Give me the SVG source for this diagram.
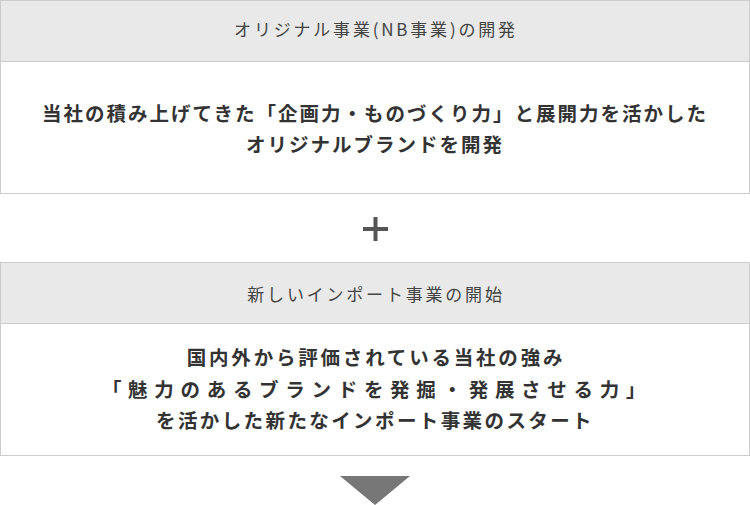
<svg xmlns="http://www.w3.org/2000/svg" width="750" height="505" viewBox="0 0 750 505">
<style>
.hd{fill:#e9e9e9;stroke:#cccccc;stroke-width:1}
.bd{fill:#ffffff;stroke:#cccccc;stroke-width:1}
.ht{font-family:"Noto Sans CJK JP","Noto Sans",sans-serif;font-size:17px;fill:#444;text-anchor:middle;letter-spacing:2.8px}
.bt{font-family:"Noto Sans CJK JP","Noto Sans",sans-serif;font-size:19.5px;font-weight:bold;fill:#333;text-anchor:middle;letter-spacing:2px}
</style>
<rect width="750" height="505" fill="#ffffff"/>
<g id="box1">
<rect class="hd" x="0.5" y="0.5" width="749" height="61"/>
<text class="ht" x="376" y="36">オリジナル事業(NB事業)の開発</text>
<rect class="bd" x="0.5" y="61.5" width="749" height="132"/>
<text class="bt" x="375" y="121">当社の積み上げてきた「企画力・ものづくり力」と展開力を活かした</text>
<text class="bt" x="375" y="152">オリジナルブランドを開発</text>
</g>
<g id="plus">
<rect x="363" y="227" width="25" height="4" fill="#555"/>
<rect x="373.5" y="217" width="4" height="24" fill="#555"/>
</g>
<g id="box2">
<rect class="hd" x="0.5" y="262.5" width="749" height="61"/>
<text class="ht" x="376" y="301">新しいインポート事業の開始</text>
<rect class="bd" x="0.5" y="323.5" width="749" height="132"/>
<text class="bt" x="376" y="365" style="letter-spacing:2.8px">国内外から評価されている当社の強み</text>
<text class="bt" x="377" y="397" style="letter-spacing:6.7px">「魅力のあるブランドを発掘・発展させる力」</text>
<text class="bt" x="375" y="428" style="letter-spacing:2.4px">を活かした新たなインポート事業のスタート</text>
</g>
<g id="connectors">
<polygon points="340,476 410,476 375,505" fill="#777"/>
</g>
</svg>
